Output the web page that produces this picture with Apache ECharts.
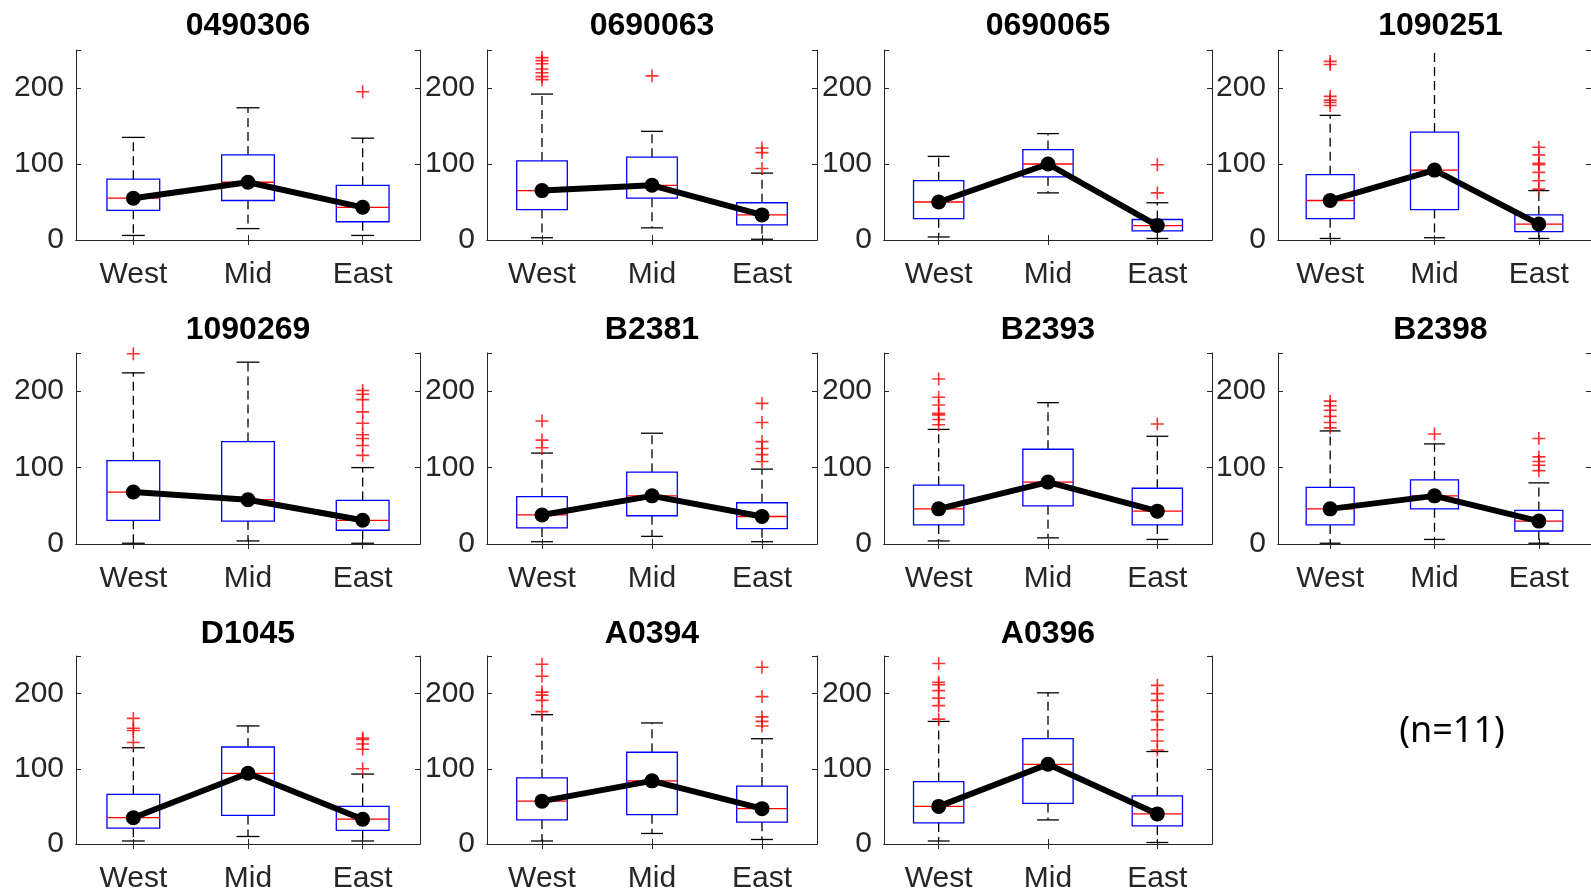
<!DOCTYPE html>
<html>
<head>
<meta charset="utf-8">
<script src="https://cdn.jsdelivr.net/npm/echarts@6/dist/echarts.min.js"></script>
<style>
html,body{margin:0;padding:0;background:#ffffff;}
#chart{width:1591px;height:894px;}
</style>
</head>
<body>
<div id="chart"></div>
<script>
// ---------------- data ----------------
const categories = ['West', 'Mid', 'East'];
const stations = ['0490306', '0690063', '0690065', '1090251', '1090269', 'B2381', 'B2393', 'B2398', 'D1045', 'A0394', 'A0396'];
const yTicks = [0, 100, 200];
const yMax = 250;
const sampleNote = '(n=11)';

// per station: [West, Mid, East]
const whiskerLow = [
  [6, 15, 6], [3, 16, 1], [4, 62, 2], [2, 3, 2],
  [1, 4, 1], [3, 10, 3], [4, 8, 6], [1, 6, 1],
  [4, 10, 4], [4, 14, 6], [4, 32, 2]
];
const quartile1 = [
  [39, 52, 24], [40, 55, 20], [28, 83, 12], [28, 40, 11],
  [31, 30, 18], [21, 37, 20], [25, 50, 25], [25, 46, 17],
  [21, 38, 18], [32, 39, 29], [28, 54, 24]
];
const median = [
  [55, 76, 43], [65, 72, 33], [50, 100, 19], [52, 92, 21],
  [68, 58, 31], [38, 63, 36], [46, 81, 43], [46, 63, 30],
  [35, 94, 33], [57, 84, 47], [50, 106, 40]
];
const quartile3 = [
  [80, 112, 72], [104, 109, 49], [78, 119, 27], [86, 142, 33],
  [109, 134, 57], [62, 94, 54], [77, 124, 73], [74, 84, 44],
  [66, 129, 50], [88, 122, 77], [83, 140, 64]
];
const whiskerHigh = [
  [135, 174, 134], [192, 143, 88], [110, 140, 49], [164, 265, 65],
  [224, 238, 100], [119, 145, 98], [150, 185, 141], [148, 131, 80],
  [128, 157, 93], [172, 161, 140], [163, 201, 123]
];
const outliers = [
  [[], [], [195]],
  [[211, 215, 220, 225, 232, 236, 240], [216], [94, 115, 121]],
  [[], [], [62, 99]],
  [[177, 181, 184, 189, 231, 235], [], [67, 78, 89, 99, 101, 112, 122]],
  [[249], [], [116, 129, 138, 143, 158, 173, 189, 196, 201]],
  [[126, 136, 161], [], [108, 117, 125, 134, 159, 184]],
  [[156, 163, 169, 171, 182, 192, 216], [], [157]],
  [[152, 159, 167, 175, 181, 187], [144], [96, 103, 108, 114, 138]],
  [[135, 151, 154, 167], [], [100, 126, 133, 139, 141]],
  [[176, 191, 198, 202, 223, 239], [], [157, 163, 169, 196, 235]],
  [[166, 184, 194, 204, 212, 215, 240], [], [125, 137, 152, 165, 176, 191, 200, 211]]
];

// ---------------- layout ----------------
const colLeft = [76, 487, 884, 1278];
const colWidth = [344, 330, 328, 325];
const rowTop = [50, 353, 656];
const rowHeight = [190, 191, 192];
const titleCenterY = [26, 330, 634];

const axisColor = '#262626';
const FONT = "'Liberation Sans', Arial, Helvetica, sans-serif";

function renderBox(params, api) {
  const k = api.value(0);
  const lo = api.coord([k, api.value(1)]);
  const q1 = api.coord([k, api.value(2)]);
  const md = api.coord([k, api.value(3)]);
  const q3 = api.coord([k, api.value(4)]);
  const hi = api.coord([k, api.value(5)]);
  const band = api.size([1, 0])[0];
  const bw = band * 0.46;
  const cw = band * 0.2;
  const cx = q1[0];
  const dash = {stroke: '#000000', lineWidth: 1.3, lineDash: [9, 5], fill: null};
  const solid = {stroke: '#000000', lineWidth: 1.3, fill: null};
  return {
    type: 'group',
    children: [
      {type: 'line', shape: {x1: cx, y1: q3[1], x2: cx, y2: hi[1]}, style: dash},
      {type: 'line', shape: {x1: cx, y1: q1[1], x2: cx, y2: lo[1]}, style: dash},
      {type: 'line', shape: {x1: cx - cw / 2, y1: hi[1], x2: cx + cw / 2, y2: hi[1]}, style: solid},
      {type: 'line', shape: {x1: cx - cw / 2, y1: lo[1], x2: cx + cw / 2, y2: lo[1]}, style: solid},
      {type: 'rect', shape: {x: cx - bw / 2, y: q3[1], width: bw, height: q1[1] - q3[1]},
        style: {fill: null, stroke: '#0000ff', lineWidth: 1.3}},
      {type: 'line', shape: {x1: cx - bw / 2, y1: md[1], x2: cx + bw / 2, y2: md[1]},
        style: {stroke: '#ff0000', lineWidth: 1.3}}
    ]
  };
}

const grids = [], xAxes = [], yAxes = [], series = [], titles = [];

stations.forEach((name, i) => {
  const r = Math.floor(i / 4), c = i % 4;
  grids.push({left: colLeft[c], top: rowTop[r], width: colWidth[c], height: rowHeight[r], containLabel: false});
  const tick = {show: true, inside: true, length: 5, alignWithLabel: true, lineStyle: {color: axisColor, width: 1}};
  const line = {show: true, lineStyle: {color: axisColor, width: 1}};
  xAxes.push({
    type: 'category', gridIndex: i, data: categories, position: 'bottom', boundaryGap: true,
    axisLine: line, axisTick: tick,
    axisLabel: {show: true, margin: 20, color: axisColor, fontSize: 30, fontFamily: FONT},
    splitLine: {show: false}
  });
  xAxes.push({
    type: 'category', gridIndex: i, data: categories, position: 'top', boundaryGap: true,
    axisLine: line, axisTick: tick, axisLabel: {show: false}, splitLine: {show: false}
  });
  const ytick = {show: true, inside: true, length: 5, lineStyle: {color: axisColor, width: 1}};
  yAxes.push({
    type: 'value', gridIndex: i, min: 0, max: yMax, interval: 100, position: 'left',
    axisLine: line, axisTick: ytick,
    axisLabel: {show: true, margin: 12, color: axisColor, fontSize: 30, fontFamily: FONT,
      padding: [4, 0, 0, 0],
      formatter: v => (yTicks.indexOf(v) >= 0 ? String(v) : '')},
    splitLine: {show: false}
  });
  yAxes.push({
    type: 'value', gridIndex: i, min: 0, max: yMax, interval: 100, position: 'right',
    axisLine: line, axisTick: ytick, axisLabel: {show: false}, splitLine: {show: false}
  });

  series.push({
    type: 'custom', xAxisIndex: 2 * i, yAxisIndex: 2 * i, clip: true, z: 2, silent: true,
    renderItem: renderBox,
    encode: {x: 0, y: [1, 2, 3, 4, 5]},
    data: categories.map((cat, k) => [k, whiskerLow[i][k], quartile1[i][k], median[i][k], quartile3[i][k], whiskerHigh[i][k]])
  });
  const pts = [];
  outliers[i].forEach((arr, k) => arr.forEach(v => pts.push([k, v])));
  series.push({
    type: 'scatter', xAxisIndex: 2 * i, yAxisIndex: 2 * i, z: 4, silent: true,
    symbol: 'path://M0,5L10,5M5,0L5,10', symbolSize: 13,
    itemStyle: {color: 'rgba(0,0,0,0)', borderColor: '#ff0000', borderWidth: 1.6},
    data: pts
  });
  series.push({
    type: 'line', xAxisIndex: 2 * i, yAxisIndex: 2 * i, z: 3, silent: true,
    data: median[i],
    lineStyle: {color: '#000000', width: 6},
    symbol: 'circle', symbolSize: 15,
    itemStyle: {color: '#000000'}
  });

  titles.push({
    text: name, left: colLeft[c] + colWidth[c] / 2, top: titleCenterY[r],
    textAlign: 'center', textVerticalAlign: 'middle', padding: 0,
    textStyle: {fontSize: 32, fontWeight: 'bold', color: '#000000', fontFamily: FONT}
  });
});

titles.push({
  text: sampleNote, left: 1452, top: 732, textAlign: 'center', textVerticalAlign: 'middle', padding: 0,
  textStyle: {fontSize: 36, fontWeight: 'normal', color: '#000000', fontFamily: "'Noto Sans', sans-serif"}
});

const chart = echarts.init(document.getElementById('chart'), null, {renderer: 'canvas'});
chart.setOption({
  backgroundColor: '#ffffff',
  animation: false,
  title: titles,
  grid: grids,
  xAxis: xAxes,
  yAxis: yAxes,
  series: series
});
</script>
</body>
</html>
